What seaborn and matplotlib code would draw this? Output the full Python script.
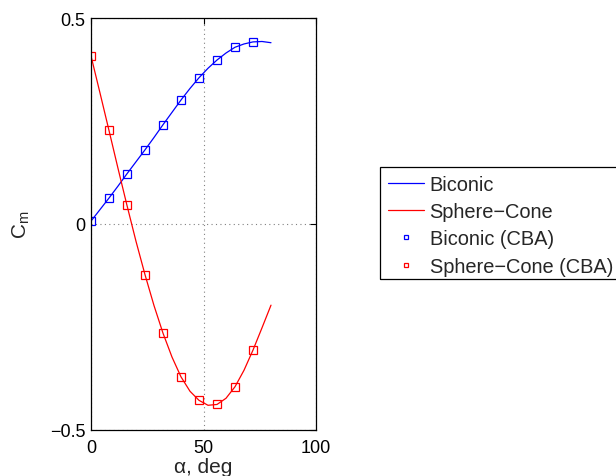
import matplotlib
matplotlib.use("Agg")
import matplotlib.pyplot as plt
from matplotlib.patches import Rectangle
import seaborn as sns
import pandas as pd

# Smooth curves
alpha_line = [0, 4, 8, 12, 16, 20, 24, 28, 32, 36, 40, 44, 48, 52, 56, 60, 64, 68, 72, 76, 80]
biconic_line = [0.007, 0.035, 0.063, 0.092, 0.122, 0.151, 0.180, 0.210, 0.241, 0.271, 0.301,
                0.329, 0.355, 0.378, 0.398, 0.415, 0.429, 0.437, 0.442, 0.443, 0.440]
sphere_line = [0.408, 0.318, 0.227, 0.135, 0.045, -0.042, -0.123, -0.198, -0.265, -0.323, -0.371,
               -0.406, -0.428, -0.440, -0.438, -0.423, -0.395, -0.355, -0.306, -0.252, -0.197]

# CBA points
alpha_cba = [0, 8, 16, 24, 32, 40, 48, 56, 64, 72]
biconic_cba = [0.007, 0.063, 0.122, 0.180, 0.241, 0.301, 0.355, 0.398, 0.429, 0.442]
sphere_cba = [0.408, 0.227, 0.045, -0.123, -0.265, -0.371, -0.428, -0.438, -0.395, -0.306]

x_ticks = [0, 50, 100]
y_ticks = [-0.5, 0, 0.5]
y_tick_labels = ["\u22120.5", "0", "0.5"]

sns.set_style("white")
plt.rcParams["font.family"] = ["Liberation Sans", "DejaVu Sans"]
plt.rcParams["mathtext.fontset"] = "custom"
plt.rcParams["mathtext.rm"] = "Liberation Sans"
plt.rcParams["mathtext.it"] = "Liberation Sans"

fig = plt.figure(figsize=(6.16, 4.77), dpi=100)
ax = fig.add_axes([91 / 616, 1 - 431 / 477, 225 / 616, 412 / 477])

df_b = pd.DataFrame({"a": alpha_line, "c": biconic_line})
df_s = pd.DataFrame({"a": alpha_line, "c": sphere_line})
sns.lineplot(data=df_b, x="a", y="c", ax=ax, color="#0000ff", lw=0.9, label="Biconic", sort=False)
sns.lineplot(data=df_s, x="a", y="c", ax=ax, color="#ff0000", lw=0.9, label="Sphere\u2212Cone", sort=False)

ax.plot(alpha_cba, biconic_cba, ls="none", marker="s", ms=5.5, mfc="none", mec="#0000ff", mew=0.9,
        label="Biconic (CBA)")
ax.plot(alpha_cba, sphere_cba, ls="none", marker="s", ms=5.5, mfc="none", mec="#ff0000", mew=0.9,
        label="Sphere\u2212Cone (CBA)")

ax.set_xlim(0, 100)
ax.set_ylim(-0.5, 0.5)
ax.set_xticks(x_ticks)
ax.set_xticklabels([str(t) for t in x_ticks])
ax.set_yticks(y_ticks)
ax.set_yticklabels(y_tick_labels)
ax.tick_params(direction="in", length=4, width=0.8, top=True, right=True, labelsize=13,
               colors="black")
ax.tick_params(axis="x", pad=6.5)
ax.tick_params(axis="y", pad=4)
ax.grid(True, color="#808080", ls=(0, (1, 3)), lw=0.8)
for s in ax.spines.values():
    s.set_color("black")
    s.set_linewidth(0.9)

ax.set_xlabel("\u03b1, deg", fontsize=15, labelpad=1)
ax.set_ylabel(r"$\mathregular{C_m}$", fontsize=15, labelpad=13)

leg = ax.legend(loc="upper left", bbox_to_anchor=(380 / 616, 1 - 168 / 477),
                bbox_transform=fig.transFigure, fontsize=14.4, frameon=False,
                borderpad=0.38, labelspacing=0.42,
                handlelength=1.8, handletextpad=0.3, markerscale=0.55, borderaxespad=0)

# legend frame
fig.add_artist(Rectangle((380 / 616, 1 - 280 / 477), 240 / 616, 112 / 477,
                         transform=fig.transFigure, fill=False, edgecolor="black", lw=0.9))

fig.savefig("out.png", dpi=100)
